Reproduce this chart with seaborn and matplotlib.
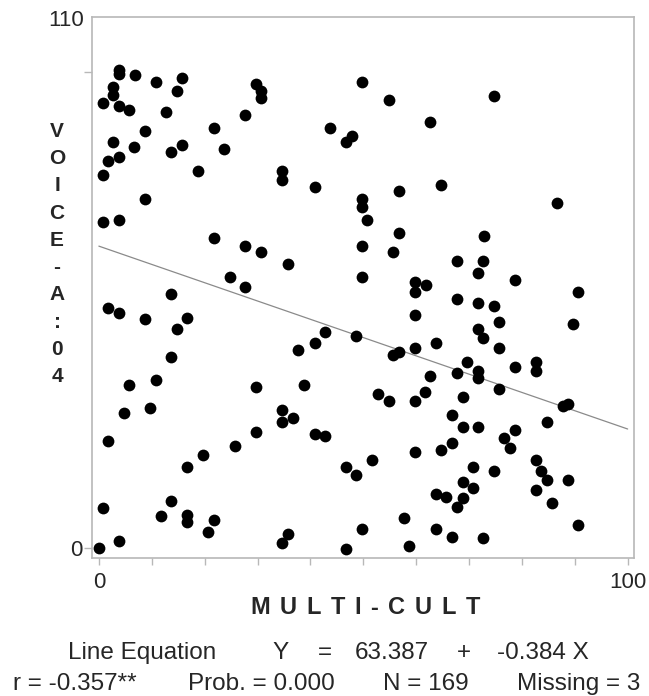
import matplotlib
matplotlib.use("Agg")
import matplotlib.pyplot as plt
import seaborn as sns

# ---- data ----
multi_cult = [
    3.8, 3.8, 6.8, 10.8, 15.8, 2.7, 2.7, 0.7, 3.8, 5.7, 14.7, 12.7, 29.7, 30.7, 30.7, 27.7,
    21.7, 8.7, 43.7, 47.8, 46.8, 2.7, 6.7, 15.8, 13.7, 23.7, 1.8, 3.8, 0.7, 18.7, 34.7, 34.7,
    40.8, 8.8, 0.7, 3.8, 21.7, 27.7, 30.7, 35.7, 24.8,
    49.8, 54.8, 74.7, 62.7, 64.7, 56.8, 49.8, 49.8, 50.7, 86.7, 56.8, 72.8, 49.8, 55.7, 67.7,
    72.7, 71.7, 78.7, 49.8,
    27.7, 13.7, 1.8, 3.8, 8.7, 16.7, 14.7, 42.7, 40.8, 37.7, 13.7, 5.7, 10.8, 29.7, 38.8, 4.7,
    9.7, 34.7, 34.7, 36.7, 29.7, 40.8, 42.7, 1.8, 25.7, 19.7, 16.7, 46.7, 0.7, 13.7, 11.7, 16.7,
    16.7, 21.7, 20.7, 0.0, 3.8, 35.7, 34.7, 46.7,
    59.8, 61.8, 59.8, 90.7, 67.7, 71.7, 74.7, 59.7, 75.7, 89.7, 71.7, 72.7, 48.7, 63.7, 59.7,
    75.7, 55.6, 56.8, 69.7, 82.7, 82.7, 78.7, 71.7, 67.7, 71.7, 62.7, 75.7, 61.7, 52.7, 54.8,
    59.7, 68.8, 87.7, 88.8, 66.7, 68.8, 71.7, 78.7, 84.7, 76.6, 77.7, 66.7, 64.7, 59.7, 51.7,
    48.7, 70.7, 74.7, 82.7, 83.7, 84.7, 88.8, 82.7, 85.7, 68.8, 70.7, 63.7, 65.7, 68.8, 67.7,
    57.7, 90.7, 49.8, 63.7, 66.7, 72.7, 58.7,
]
voice_a04 = [
    100.4, 99.6, 99.3, 97.9, 98.7, 96.9, 95.1, 93.5, 92.9, 92.0, 95.9, 91.5, 97.4, 95.9, 94.4, 91.0,
    88.1, 87.6, 88.1, 86.6, 85.2, 85.2, 84.2, 84.7, 83.1, 83.7, 81.2, 82.2, 78.4, 79.2, 79.2, 77.3,
    75.9, 73.3, 68.4, 68.9, 65.0, 63.5, 62.1, 59.7, 56.8,
    97.9, 94.0, 95.0, 89.4, 76.3, 74.9, 73.3, 71.5, 68.9, 72.4, 66.1, 65.5, 63.5, 62.1, 60.2,
    60.2, 57.7, 56.3, 56.8,
    54.9, 53.3, 50.4, 49.3, 48.0, 48.4, 45.9, 45.4, 43.0, 41.5, 40.1, 34.2, 35.2, 33.8, 34.2, 28.3,
    29.4, 28.9, 26.4, 27.4, 24.4, 24.0, 23.6, 22.5, 21.5, 19.6, 17.1, 17.1, 8.3, 9.8, 6.8, 6.9,
    5.4, 5.9, 3.4, 0.0, 1.5, 2.9, 1.0, -0.3,
    55.9, 55.2, 53.8, 53.8, 52.3, 51.4, 50.9, 48.9, 47.4, 47.0, 46.0, 44.0, 44.6, 43.0, 42.1,
    42.1, 40.5, 41.2, 39.1, 39.1, 37.2, 38.1, 37.2, 36.7, 35.6, 36.2, 33.3, 32.8, 32.3, 30.9,
    30.9, 31.8, 29.8, 30.2, 27.9, 25.5, 25.5, 24.8, 26.4, 23.0, 21.1, 22.0, 20.6, 20.1, 18.5,
    15.4, 17.1, 16.2, 18.5, 16.2, 14.3, 14.3, 12.2, 9.4, 13.8, 12.7, 11.4, 10.8, 10.4, 8.7,
    6.4, 4.8, 3.9, 4.0, 2.4, 2.0, 0.5,
]
intercept = 63.387
slope = -0.384
line_x = [0, 100]
line_y = [intercept + slope * v for v in line_x]

x_ticks = [0, 100]
x_minor = [10, 20, 30, 40, 50, 60, 70, 80, 90]
y_ticks = [0, 100]
y_ticklabels = ["0", ""]
y_top_label = "110"
x_label = "MULTI-CULT"
y_label = "V\nO\nI\nC\nE\n-\nA\n:\n0\n4"
eq_parts = ["Line Equation", "Y", "=", "63.387", "+", "-0.384 X"]
stat_parts = ["r = -0.357**", "Prob. = 0.000", "N = 169", "Missing = 3"]

# ---- style ----
sns.set_style("white")
plt.rcParams["font.family"] = ["Liberation Sans", "DejaVu Sans"]

W, H = 649, 696
fig = plt.figure(figsize=(W / 100, H / 100), dpi=100)
ax = fig.add_axes([92 / W, 1 - 558 / H, (634 - 92) / W, (558 - 17) / H])

sns.scatterplot(x=multi_cult, y=voice_a04, ax=ax, color="black", s=72,
                linewidth=0, edgecolor="black", zorder=3)
sns.lineplot(x=line_x, y=line_y, ax=ax, color="#8a8a8a", linewidth=0.9, zorder=2)

ax.set_xlim(-1.3, 101.2)
ax.set_ylim(-2.1, 111.5)

frame_col = "#b8b8b8"
for sp in ax.spines.values():
    sp.set_visible(True)
    sp.set_color(frame_col)
    sp.set_linewidth(1.2)

ax.set_xticks(x_ticks)
ax.set_xticklabels([str(v) for v in x_ticks])
ax.set_xticks(x_minor, minor=True)
ax.set_yticks(y_ticks)
ax.set_yticklabels(y_ticklabels)
ax.tick_params(axis="x", which="both", direction="out", length=5, width=1,
               color=frame_col, labelsize=16, pad=5, bottom=True)
ax.tick_params(axis="y", which="both", direction="out", length=5.5, width=1,
               color=frame_col, labelsize=16, pad=1.5, left=True)
ax.set_xlabel("")
ax.set_ylabel("")

fig.text(84 / W, 1 - 20 / H, y_top_label, ha="right", va="center", fontsize=16)

fig.text(57 / W, 1 - 254 / H, y_label, ha="center", va="center",
         fontsize=15, fontweight="bold", linespacing=1.55)

# x label drawn with wide letter spacing (tracked to the reference width)
renderer = fig.canvas.get_renderer()
xl_props = dict(fontsize=17, fontweight="bold")
widths = []
for ch in x_label:
    t = fig.text(0, 0, ch, **xl_props)
    widths.append(t.get_window_extent(renderer).width)
    t.remove()
target_w, center_px = 230.0, 365.0
gap = (target_w - sum(widths)) / (len(x_label) - 1)
cur = center_px - target_w / 2
for ch, w in zip(x_label, widths):
    fig.text(cur / W, 1 - 608 / H, ch, ha="left", va="center", **xl_props)
    cur += w + gap

eq_x = [68, 272, 318, 355, 457, 497]
for txt, px in zip(eq_parts, eq_x):
    fig.text(px / W, 1 - 659 / H, txt, ha="left", va="baseline", fontsize=17.5)
stat_x = [13, 188, 383, 517]
for txt, px in zip(stat_parts, stat_x):
    fig.text(px / W, 1 - 690 / H, txt, ha="left", va="baseline", fontsize=17.5)

fig.savefig("out.png", dpi=100)
